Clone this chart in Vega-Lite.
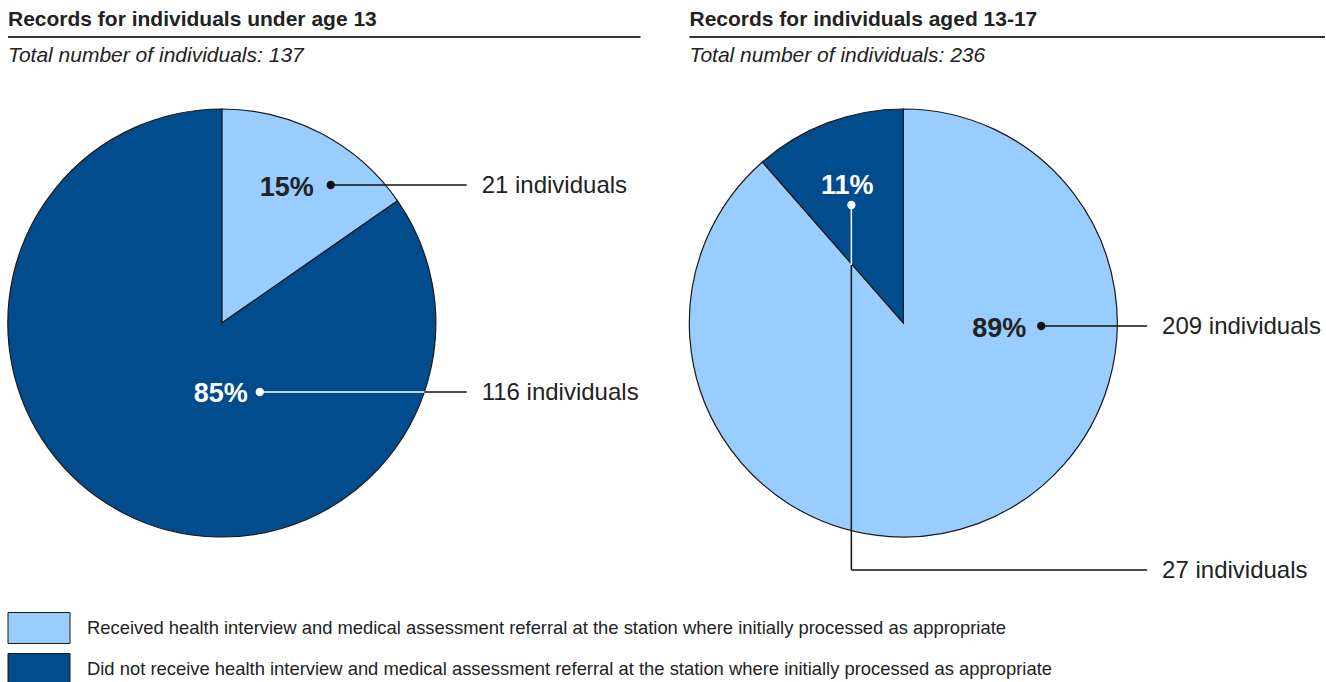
{
  "$schema": "https://vega.github.io/schema/vega-lite/v6.json",
  "width": 1326,
  "height": 682,
  "autosize": {"type": "fit", "contains": "padding"},
  "padding": 0,
  "background": "white",
  "config": {
    "view": {"stroke": null},
    "axis": {"disable": true},
    "font": "Liberation Sans",
    "text": {"font": "Liberation Sans", "color": "#222222"}
  },
  "data": {
    "values": [
      {"age": "under 13", "group": "Records for individuals under age 13", "category": "Received health interview and medical assessment referral at the station where initially processed as appropriate", "count": 21},
      {"age": "under 13", "group": "Records for individuals under age 13", "category": "Did not receive health interview and medical assessment referral at the station where initially processed as appropriate", "count": 116},
      {"age": "13-17", "group": "Records for individuals aged 13-17", "category": "Received health interview and medical assessment referral at the station where initially processed as appropriate", "count": 209},
      {"age": "13-17", "group": "Records for individuals aged 13-17", "category": "Did not receive health interview and medical assessment referral at the station where initially processed as appropriate", "count": 27}
    ]
  },
  "transform": [
    {"joinaggregate": [{"op": "sum", "field": "count", "as": "total"}], "groupby": ["age"]},
    {"calculate": "datum.count / datum.total", "as": "share"},
    {"calculate": "datum.count + ' individuals'", "as": "countLabel"},
    {"calculate": "'Total number of individuals: ' + datum.total", "as": "totalLabel"},
    {"calculate": "test(/^Received/, datum.category)", "as": "received"}
  ],
  "layer": [
    {
      "transform": [{"filter": "datum.age == 'under 13'"}],
      "mark": {"type": "arc", "radius": 214, "stroke": "#1a1a1a", "strokeWidth": 1.2},
      "encoding": {
        "theta": {"field": "count", "type": "quantitative", "stack": "normalize"},
        "order": {"field": "category", "sort": "descending"},
        "color": {
          "field": "category", "type": "nominal",
          "scale": {"domain": ["Received health interview and medical assessment referral at the station where initially processed as appropriate", "Did not receive health interview and medical assessment referral at the station where initially processed as appropriate"], "range": ["#99ccff", "#004c8c"]},
          "legend": {"orient": "none", "legendX": 23, "legendY": 612, "title": null, "symbolType": "M-2,-1H2V1H-2Z", "symbolSize": 961, "symbolStrokeColor": "#333333", "symbolStrokeWidth": 1, "symbolOpacity": 1, "labelFontSize": 18.4, "labelFont": "Liberation Sans", "labelColor": "#222222", "labelLimit": 1300, "labelOffset": 32, "rowPadding": 5, "padding": 0}
        },
        "x": {"datum": 222, "type": "quantitative", "scale": {"domain": [0, 1326], "nice": false, "zero": false}, "axis": null},
        "y": {"datum": 323, "type": "quantitative", "scale": {"domain": [0, 682], "nice": false, "zero": false, "reverse": true}, "axis": null}
      }
    },
    {
      "transform": [{"filter": "datum.age == '13-17'"}],
      "mark": {"type": "arc", "radius": 214, "stroke": "#1a1a1a", "strokeWidth": 1.2},
      "encoding": {
        "theta": {"field": "count", "type": "quantitative", "stack": "normalize"},
        "order": {"field": "category", "sort": "descending"},
        "color": {"field": "category", "type": "nominal"},
        "x": {"datum": 904, "type": "quantitative"},
        "y": {"datum": 323, "type": "quantitative"}
      }
    },
    {
      "transform": [{"filter": "datum.age == 'under 13' && datum.received"}],
      "mark": {"type": "text", "align": "left", "baseline": "alphabetic", "fontSize": 21, "fontWeight": "bold"},
      "encoding": {"text": {"field": "group"}, "x": {"datum": 8, "type": "quantitative"}, "y": {"datum": 26, "type": "quantitative"}}
    },
    {
      "transform": [{"filter": "datum.age == '13-17' && datum.received"}],
      "mark": {"type": "text", "align": "left", "baseline": "alphabetic", "fontSize": 21, "fontWeight": "bold"},
      "encoding": {"text": {"field": "group"}, "x": {"datum": 690, "type": "quantitative"}, "y": {"datum": 26, "type": "quantitative"}}
    },
    {
      "transform": [{"filter": "datum.age == 'under 13' && datum.received"}],
      "mark": {"type": "text", "align": "left", "baseline": "alphabetic", "fontSize": 21, "fontStyle": "italic"},
      "encoding": {"text": {"field": "totalLabel"}, "x": {"datum": 8, "type": "quantitative"}, "y": {"datum": 62, "type": "quantitative"}}
    },
    {
      "transform": [{"filter": "datum.age == '13-17' && datum.received"}],
      "mark": {"type": "text", "align": "left", "baseline": "alphabetic", "fontSize": 21, "fontStyle": "italic"},
      "encoding": {"text": {"field": "totalLabel"}, "x": {"datum": 690, "type": "quantitative"}, "y": {"datum": 62, "type": "quantitative"}}
    },
    {
      "transform": [{"filter": "datum.age == 'under 13' && datum.received"}],
      "mark": {"type": "rule", "color": "#333333", "strokeWidth": 2},
      "encoding": {"x": {"datum": 8, "type": "quantitative"}, "x2": {"datum": 641}, "y": {"datum": 37, "type": "quantitative"}}
    },
    {
      "transform": [{"filter": "datum.age == '13-17' && datum.received"}],
      "mark": {"type": "rule", "color": "#333333", "strokeWidth": 2},
      "encoding": {"x": {"datum": 690, "type": "quantitative"}, "x2": {"datum": 1326}, "y": {"datum": 37, "type": "quantitative"}}
    },
    {
      "transform": [{"filter": "datum.age == 'under 13' && datum.received"}],
      "mark": {"type": "rule", "color": "#111111", "strokeWidth": 1.5},
      "encoding": {"x": {"datum": 331, "type": "quantitative"}, "x2": {"datum": 467}, "y": {"datum": 185, "type": "quantitative"}}
    },
    {
      "transform": [{"filter": "datum.age == 'under 13' && !datum.received"}],
      "mark": {"type": "rule", "color": "#ffffff", "strokeWidth": 1.5},
      "encoding": {"x": {"datum": 260, "type": "quantitative"}, "x2": {"datum": 425}, "y": {"datum": 392, "type": "quantitative"}}
    },
    {
      "transform": [{"filter": "datum.age == 'under 13' && !datum.received"}],
      "mark": {"type": "rule", "color": "#111111", "strokeWidth": 1.5},
      "encoding": {"x": {"datum": 425, "type": "quantitative"}, "x2": {"datum": 467}, "y": {"datum": 392, "type": "quantitative"}}
    },
    {
      "transform": [{"filter": "datum.age == '13-17' && datum.received"}],
      "mark": {"type": "rule", "color": "#111111", "strokeWidth": 1.5},
      "encoding": {"x": {"datum": 1042, "type": "quantitative"}, "x2": {"datum": 1148}, "y": {"datum": 326, "type": "quantitative"}}
    },
    {
      "transform": [{"filter": "datum.age == '13-17' && !datum.received"}],
      "mark": {"type": "rule", "color": "#ffffff", "strokeWidth": 1.5},
      "encoding": {"x": {"datum": 852, "type": "quantitative"}, "y": {"datum": 205, "type": "quantitative"}, "y2": {"datum": 265}}
    },
    {
      "transform": [{"filter": "datum.age == '13-17' && !datum.received"}],
      "mark": {"type": "rule", "color": "#111111", "strokeWidth": 1.5},
      "encoding": {"x": {"datum": 852, "type": "quantitative"}, "y": {"datum": 265, "type": "quantitative"}, "y2": {"datum": 570}}
    },
    {
      "transform": [{"filter": "datum.age == '13-17' && !datum.received"}],
      "mark": {"type": "rule", "color": "#111111", "strokeWidth": 1.5},
      "encoding": {"x": {"datum": 852, "type": "quantitative"}, "x2": {"datum": 1148}, "y": {"datum": 570, "type": "quantitative"}}
    },
    {
      "transform": [{"filter": "datum.age == 'under 13' && datum.received"}],
      "mark": {"type": "point", "filled": true, "opacity": 1, "size": 70, "color": "#111111"},
      "encoding": {"x": {"datum": 331, "type": "quantitative"}, "y": {"datum": 185, "type": "quantitative"}}
    },
    {
      "transform": [{"filter": "datum.age == 'under 13' && !datum.received"}],
      "mark": {"type": "point", "filled": true, "opacity": 1, "size": 70, "color": "#ffffff"},
      "encoding": {"x": {"datum": 260, "type": "quantitative"}, "y": {"datum": 392, "type": "quantitative"}}
    },
    {
      "transform": [{"filter": "datum.age == '13-17' && datum.received"}],
      "mark": {"type": "point", "filled": true, "opacity": 1, "size": 70, "color": "#111111"},
      "encoding": {"x": {"datum": 1042, "type": "quantitative"}, "y": {"datum": 326, "type": "quantitative"}}
    },
    {
      "transform": [{"filter": "datum.age == '13-17' && !datum.received"}],
      "mark": {"type": "point", "filled": true, "opacity": 1, "size": 70, "color": "#ffffff"},
      "encoding": {"x": {"datum": 852, "type": "quantitative"}, "y": {"datum": 205, "type": "quantitative"}}
    },
    {
      "transform": [{"filter": "datum.age == 'under 13' && datum.received"}],
      "mark": {"type": "text", "align": "center", "baseline": "alphabetic", "fontSize": 27, "fontWeight": "bold", "color": "#222222"},
      "encoding": {"text": {"field": "share", "format": ".0%"}, "x": {"datum": 287, "type": "quantitative"}, "y": {"datum": 196, "type": "quantitative"}}
    },
    {
      "transform": [{"filter": "datum.age == 'under 13' && !datum.received"}],
      "mark": {"type": "text", "align": "center", "baseline": "alphabetic", "fontSize": 27, "fontWeight": "bold", "color": "#ffffff"},
      "encoding": {"text": {"field": "share", "format": ".0%"}, "x": {"datum": 221, "type": "quantitative"}, "y": {"datum": 402, "type": "quantitative"}}
    },
    {
      "transform": [{"filter": "datum.age == '13-17' && datum.received"}],
      "mark": {"type": "text", "align": "center", "baseline": "alphabetic", "fontSize": 27, "fontWeight": "bold", "color": "#222222"},
      "encoding": {"text": {"field": "share", "format": ".0%"}, "x": {"datum": 1000, "type": "quantitative"}, "y": {"datum": 337, "type": "quantitative"}}
    },
    {
      "transform": [{"filter": "datum.age == '13-17' && !datum.received"}],
      "mark": {"type": "text", "align": "center", "baseline": "alphabetic", "fontSize": 27, "fontWeight": "bold", "color": "#ffffff"},
      "encoding": {"text": {"field": "share", "format": ".0%"}, "x": {"datum": 848, "type": "quantitative"}, "y": {"datum": 194, "type": "quantitative"}}
    },
    {
      "transform": [{"filter": "datum.age == 'under 13' && datum.received"}],
      "mark": {"type": "text", "align": "left", "baseline": "middle", "fontSize": 24},
      "encoding": {"text": {"field": "countLabel"}, "x": {"datum": 482, "type": "quantitative"}, "y": {"datum": 186, "type": "quantitative"}}
    },
    {
      "transform": [{"filter": "datum.age == 'under 13' && !datum.received"}],
      "mark": {"type": "text", "align": "left", "baseline": "middle", "fontSize": 24},
      "encoding": {"text": {"field": "countLabel"}, "x": {"datum": 482, "type": "quantitative"}, "y": {"datum": 393, "type": "quantitative"}}
    },
    {
      "transform": [{"filter": "datum.age == '13-17' && datum.received"}],
      "mark": {"type": "text", "align": "left", "baseline": "middle", "fontSize": 24},
      "encoding": {"text": {"field": "countLabel"}, "x": {"datum": 1163, "type": "quantitative"}, "y": {"datum": 327, "type": "quantitative"}}
    },
    {
      "transform": [{"filter": "datum.age == '13-17' && !datum.received"}],
      "mark": {"type": "text", "align": "left", "baseline": "middle", "fontSize": 24},
      "encoding": {"text": {"field": "countLabel"}, "x": {"datum": 1163, "type": "quantitative"}, "y": {"datum": 571, "type": "quantitative"}}
    }
  ]
}
